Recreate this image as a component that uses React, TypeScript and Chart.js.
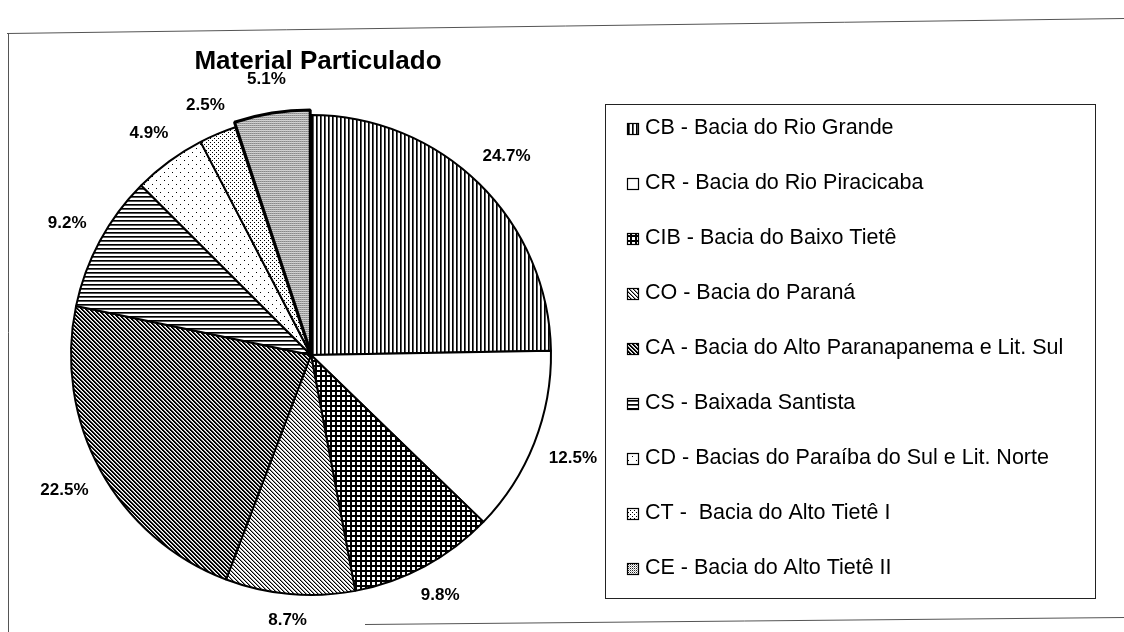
import React, { useEffect, useRef } from "react";
import { Chart, registerables } from "chart.js";

Chart.register(...registerables);

const chartTitle = "Material Particulado";
const categories = [
  "CB - Bacia do Rio Grande",
  "CR - Bacia do Rio Piracicaba",
  "CIB - Bacia do Baixo Tietê",
  "CO - Bacia do Paraná",
  "CA - Bacia do Alto Paranapanema e Lit. Sul",
  "CS - Baixada Santista",
  "CD - Bacias do Paraíba do Sul e Lit. Norte",
  "CT -  Bacia do Alto Tietê I",
  "CE - Bacia do Alto Tietê II",
];
const values = [24.7, 12.5, 9.8, 8.7, 22.5, 9.2, 4.9, 2.5, 5.1];
const explodeOffsets = [0, 0, 0, 0, 0, 0, 0, 0, 12];

type PatternDraw = (g: CanvasRenderingContext2D) => void;

const px = (g: CanvasRenderingContext2D, x: number, y: number, c = "#000") => {
  g.fillStyle = c;
  g.fillRect(x, y, 1, 1);
};

const patternDefs: { w: number; h: number; draw: PatternDraw }[] = [
  // CB vertical lines
  { w: 4, h: 4, draw: (g) => { g.fillStyle = "#000"; g.fillRect(0, 0, 1, 4); g.fillStyle = "#555"; g.fillRect(1, 0, 1, 4); } },
  // CR white
  { w: 4, h: 4, draw: () => {} },
  // CIB grid
  { w: 5, h: 5, draw: (g) => { g.fillStyle = "#000"; g.fillRect(0, 0, 5, 2); g.fillRect(0, 0, 2, 5); } },
  // CO medium diagonal
  { w: 4, h: 4, draw: (g) => { for (let i = 0; i < 4; i++) { px(g, i, i); px(g, (i + 1) % 4, i, "#999"); } } },
  // CA dark diagonal
  { w: 4, h: 4, draw: (g) => { for (let i = 0; i < 4; i++) { px(g, i, i); px(g, (i + 1) % 4, i); px(g, (i + 2) % 4, i, "#aaa"); } } },
  // CS horizontal lines
  { w: 4, h: 4, draw: (g) => { g.fillStyle = "#000"; g.fillRect(0, 0, 4, 1); g.fillStyle = "#555"; g.fillRect(0, 1, 4, 1); } },
  // CD sparse dots
  { w: 8, h: 8, draw: (g) => { px(g, 0, 0); px(g, 4, 4); } },
  // CT denser dots
  { w: 4, h: 4, draw: (g) => { px(g, 0, 0); px(g, 2, 2); } },
  // CE fine grey dots
  { w: 2, h: 2, draw: (g) => { px(g, 0, 0, "#222"); px(g, 1, 1, "#aaa"); } },
];

function makePattern(ctx: CanvasRenderingContext2D, def: { w: number; h: number; draw: PatternDraw }) {
  const c = document.createElement("canvas");
  c.width = def.w;
  c.height = def.h;
  const g = c.getContext("2d")!;
  g.fillStyle = "#fff";
  g.fillRect(0, 0, def.w, def.h);
  def.draw(g);
  return ctx.createPattern(c, "repeat")!;
}

const FONT = "'Liberation Sans', Arial, sans-serif";

export default function App() {
  const ref = useRef<HTMLCanvasElement>(null);

  useEffect(() => {
    const canvas = ref.current!;
    const ctx = canvas.getContext("2d")!;
    const patterns = patternDefs.map((d) => makePattern(ctx, d));

    const decor = {
      id: "decor",
      beforeDraw(chart: any) {
        const c = chart.ctx;
        c.save();
        c.fillStyle = "#fff";
        c.fillRect(0, 0, chart.width, chart.height);
        c.restore();
      },
      afterDatasetsDraw(chart: any) {
        const c = chart.ctx;
        const meta = chart.getDatasetMeta(0);
        c.save();
        c.font = `bold 17px ${FONT}`;
        c.fillStyle = "#000";
        c.textAlign = "center";
        c.textBaseline = "middle";
        meta.data.forEach((arc: any, i: number) => {
          const p = arc.getProps(["x", "y", "startAngle", "endAngle", "outerRadius"], true);
          const mid = (p.startAngle + p.endAngle) / 2;
          const text = `${values[i].toFixed(1)}%`;
          const w = c.measureText(text).width;
          const h = 17;
          const dx = Math.cos(mid);
          const dy = Math.sin(mid);
          const dist = p.outerRadius + 16 + Math.abs(dx) * w / 2 + Math.abs(dy) * h / 2 + explodeOffsets[i];
          c.fillText(text, p.x + dx * dist, p.y + dy * dist);
        });
        c.restore();
      },
      afterDraw(chart: any) {
        const c = chart.ctx;
        c.save();
        // outer frame (scanned)
        c.strokeStyle = "#555";
        c.lineWidth = 1;
        c.beginPath();
        c.moveTo(7, 33.5);
        c.lineTo(1124, 18.5);
        c.moveTo(8.5, 33);
        c.lineTo(8.5, 632);
        c.moveTo(365, 624.5);
        c.lineTo(1124, 617.5);
        c.stroke();

        // title
        c.fillStyle = "#000";
        c.font = `bold 26px ${FONT}`;
        c.textAlign = "center";
        c.textBaseline = "middle";
        c.fillText(chartTitle, 318, 62);

        // legend box
        const lx = 605, ly = 104, lw = 490, lh = 494;
        c.strokeStyle = "#222";
        c.lineWidth = 1;
        c.strokeRect(lx + 0.5, ly + 0.5, lw, lh);
        const ds = chart.data.datasets[0];
        c.font = `21.5px ${FONT}`;
        c.textAlign = "left";
        c.textBaseline = "middle";
        categories.forEach((label, i) => {
          const y = 128 + i * 55;
          c.fillStyle = ds.backgroundColor[i];
          c.fillRect(627, y - 5, 12, 12);
          c.strokeStyle = "#000";
          c.lineWidth = 1.2;
          c.strokeRect(627.5, y - 4.5, 11, 11);
          c.fillStyle = "#000";
          c.fillText(label, 645, y);
        });
        c.restore();
      },
    };

    const chart = new Chart(canvas, {
      type: "pie",
      data: {
        labels: categories,
        datasets: [
          {
            data: values,
            backgroundColor: patterns as any,
            borderColor: "#000",
            borderWidth: [2, 2, 2, 2, 2, 2, 2, 2, 3],
            offset: explodeOffsets,
            radius: 240,
          } as any,
        ],
      },
      options: {
        responsive: false,
        animation: false,
        events: [],
        layout: { padding: { left: 0, right: 502, top: 100, bottom: 22 } },
        plugins: {
          legend: { display: false },
          title: { display: false },
          tooltip: { enabled: false },
        },
      },
      plugins: [decor],
    });
    return () => chart.destroy();
  }, []);

  return (
    <div style={{ position: "fixed", left: 0, top: 0, width: 1124, height: 632, background: "#fff" }}>
      <canvas ref={ref} width={1124} height={632} style={{ width: 1124, height: 632, display: "block" }} />
    </div>
  );
}
